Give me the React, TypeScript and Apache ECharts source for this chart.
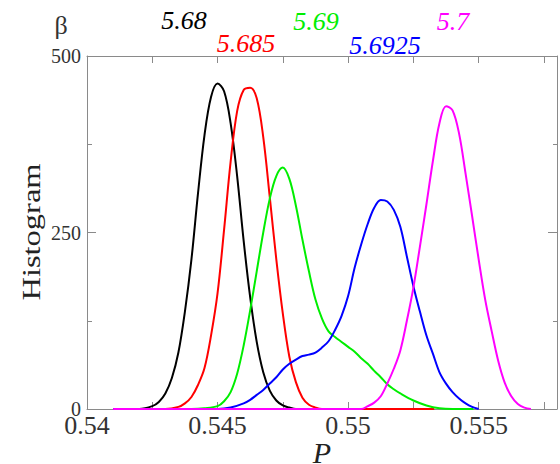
import React, { useEffect, useRef } from "react";
import * as echarts from "echarts";

const FONT = '"Liberation Serif", "Times New Roman", serif';

const xTicks = [0.54, 0.545, 0.55, 0.555];
const yTicks = [0, 250, 500];

const betaLabels = ["5.68", "5.685", "5.69", "5.6925", "5.7"];
const colors = ["#000000", "#ff0000", "#00ee00", "#0000ff", "#ff00ff"];

const black: [number, number][] = [
  [0.541, 0], [0.542, 0], [0.5425, 4], [0.54275, 10], [0.543, 22], [0.54325, 44], [0.5435, 80],
  [0.54375, 138], [0.544, 212], [0.54425, 305], [0.5445, 388], [0.54475, 442], [0.545, 461],
  [0.54525, 450], [0.5455, 405], [0.54575, 330], [0.546, 238], [0.54625, 158], [0.5465, 95],
  [0.54675, 52], [0.547, 26], [0.54725, 12], [0.5475, 5], [0.54775, 2], [0.548, 0], [0.552, 0],
];

const red: [number, number][] = [
  [0.541, 0], [0.543, 0], [0.5435, 3], [0.54375, 8], [0.544, 17], [0.54425, 34], [0.5445, 58],
  [0.54475, 104], [0.545, 164], [0.54525, 254], [0.5455, 350], [0.54575, 422], [0.546, 452],
  [0.54625, 455], [0.5465, 440], [0.54675, 385], [0.547, 300], [0.54725, 212], [0.5475, 135],
  [0.54775, 74], [0.548, 38], [0.54825, 16], [0.5485, 6], [0.54875, 2], [0.549, 0], [0.5533, 0],
];

const green: [number, number][] = [
  [0.541, 0], [0.544, 0], [0.5445, 1], [0.545, 4], [0.54525, 11], [0.5455, 24], [0.54575, 50],
  [0.546, 90], [0.54625, 140], [0.5465, 195], [0.54675, 250], [0.547, 298], [0.54725, 330],
  [0.5475, 342], [0.54775, 326], [0.548, 288], [0.54825, 240], [0.5485, 195], [0.54875, 155],
  [0.549, 128], [0.54925, 110], [0.5495, 102], [0.54975, 95], [0.55, 88], [0.55025, 81],
  [0.5505, 72], [0.55075, 64], [0.551, 54], [0.55125, 45], [0.5515, 35], [0.55175, 28],
  [0.552, 22], [0.5525, 12], [0.553, 5], [0.5535, 1], [0.554, 0], [0.5548, 0],
];

const blue: [number, number][] = [
  [0.541, 0], [0.545, 0], [0.5455, 2], [0.546, 8], [0.54625, 13], [0.5465, 20], [0.54675, 27],
  [0.547, 36], [0.54725, 45], [0.5475, 56], [0.54775, 64], [0.548, 70], [0.54825, 75],
  [0.5485, 77], [0.54875, 80], [0.549, 87], [0.54925, 96], [0.5495, 112], [0.54975, 132],
  [0.55, 160], [0.55025, 200], [0.5505, 233], [0.55075, 262], [0.551, 285], [0.55125, 296],
  [0.5515, 294], [0.55175, 282], [0.552, 258], [0.55225, 216], [0.5525, 174], [0.55275, 138],
  [0.553, 104], [0.55325, 78], [0.5535, 52], [0.55375, 36], [0.554, 24], [0.55425, 15],
  [0.5545, 8], [0.55475, 3], [0.555, 0],
];

const magenta: [number, number][] = [
  [0.541, 0], [0.5505, 0], [0.55075, 4], [0.551, 9], [0.55125, 18], [0.5515, 36], [0.55175, 57],
  [0.552, 83], [0.55225, 125], [0.5525, 172], [0.55275, 230], [0.553, 290], [0.55325, 352],
  [0.5535, 405], [0.55375, 429], [0.554, 423], [0.55425, 390], [0.5545, 333], [0.55475, 273],
  [0.555, 212], [0.55525, 155], [0.5555, 110], [0.55575, 68], [0.556, 37], [0.55625, 18],
  [0.5565, 7], [0.55675, 2], [0.557, 0],
];

const seriesData = [black, red, green, blue, magenta];

// label anchor positions (pixels) for the β legend row
const labelPos: [number, number][] = [
  [184, 20], [246, 43], [316, 21], [385, 45], [453, 21],
];

const axisColor = "#8a8a8a";
const textColor = "#333333";

function xFormatter(v: number) {
  return xTicks.some((t) => Math.abs(t - v) < 1e-9) ? String(+v.toFixed(3)) : "";
}
function yFormatter(v: number) {
  return yTicks.some((t) => Math.abs(t - v) < 1e-9) ? String(v) : "";
}

export default function App() {
  const ref = useRef<HTMLDivElement>(null);
  useEffect(() => {
    document.body.style.margin = "0";
    if (!ref.current) return;
    const chart = echarts.init(ref.current, undefined, { renderer: "svg" });
    const baseX = {
      type: "value" as const,
      min: 0.54,
      max: 0.558,
      interval: 0.0025,
      splitLine: { show: false },
      axisLine: { show: true, onZero: false, lineStyle: { color: axisColor, width: 1 } },
      axisTick: { show: true, inside: true, length: 7, lineStyle: { color: axisColor } },
    };
    const baseY = {
      type: "value" as const,
      min: 0,
      max: 500,
      splitLine: { show: false },
      axisLine: { show: true, onZero: false, lineStyle: { color: axisColor, width: 1 } },
    };
    chart.setOption({
      animation: false,
      grid: { left: 87, right: 3, top: 56, bottom: 55, containLabel: false, outerBoundsMode: "none" },
      xAxis: [
        {
          ...baseX,
          position: "bottom",
          axisLabel: {
            formatter: xFormatter,
            fontSize: 26,
            fontFamily: FONT,
            color: textColor,
            margin: 3,
            showMaxLabel: false,
          },
          name: "P",
          nameLocation: "middle",
          nameGap: 28,
          nameMoveOverlap: false,
          nameTextStyle: { fontSize: 30, fontStyle: "italic", fontFamily: FONT, color: "#222" },
        },
        { ...baseX, position: "top", axisLabel: { show: false } },
      ],
      yAxis: [
        {
          ...baseY,
          position: "left",
          interval: 250,
          axisTick: { show: true, inside: true, length: 9, lineStyle: { color: axisColor } },
          axisLabel: { formatter: yFormatter, fontSize: 20, fontFamily: FONT, color: textColor, margin: 6 },
        },
        {
          ...baseY,
          position: "left",
          interval: 125,
          axisLine: { show: false },
          axisTick: { show: true, inside: true, length: 5, lineStyle: { color: axisColor } },
          axisLabel: { show: false },
        },
        {
          ...baseY,
          position: "right",
          interval: 250,
          axisTick: { show: true, inside: true, length: 9, lineStyle: { color: axisColor } },
          axisLabel: { show: false },
        },
        {
          ...baseY,
          position: "right",
          interval: 125,
          axisLine: { show: false },
          axisTick: { show: true, inside: true, length: 4, lineStyle: { color: axisColor } },
          axisLabel: { show: false },
        },
      ],
      series: seriesData.map((d, i) => ({
        type: "line",
        name: betaLabels[i],
        data: d,
        xAxisIndex: 0,
        yAxisIndex: 0,
        showSymbol: false,
        symbol: "none",
        smooth: 0.35,
        lineStyle: { color: colors[i], width: 2 },
        itemStyle: { color: colors[i] },
        z: 2 + i,
      })),
      graphic: [
        {
          type: "text",
          x: 31,
          y: 232,
          rotation: Math.PI / 2,
          scaleX: 1.3,
          style: {
            text: "Histogram",
            font: `25px ${FONT}`,
            fill: "#222",
            textAlign: "center",
            textVerticalAlign: "middle",
            align: "center",
            verticalAlign: "middle",
          },
        },
        {
          type: "text",
          x: 61,
          y: 25,
          style: {
            text: "β",
            font: `26px ${FONT}`,
            fill: textColor,
            textAlign: "center",
            textVerticalAlign: "middle",
            align: "center",
            verticalAlign: "middle",
          },
        },
        ...betaLabels.map((t, i) => ({
          type: "text",
          x: labelPos[i][0],
          y: labelPos[i][1],
          style: {
            text: t,
            font: `italic 26px ${FONT}`,
            fill: colors[i],
            textAlign: "center",
            textVerticalAlign: "middle",
            align: "center",
            verticalAlign: "middle",
          },
        })),
      ],
    });
    return () => chart.dispose();
  }, []);
  return (
    <div
      ref={ref}
      style={{ position: "fixed", left: 0, top: 0, width: 560, height: 464, background: "#fff" }}
    />
  );
}
